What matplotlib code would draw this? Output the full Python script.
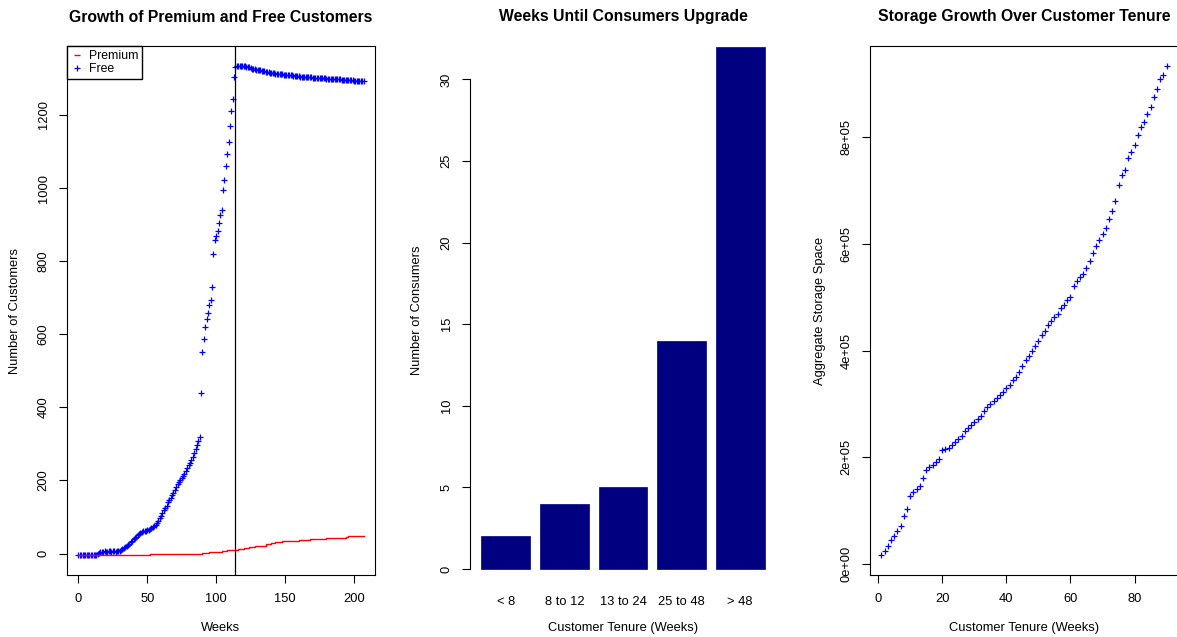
import matplotlib
matplotlib.use('Agg')
import matplotlib.pyplot as plt
from matplotlib.lines import Line2D
import numpy as np

plt.rcParams['font.family'] = ['Liberation Sans', 'DejaVu Sans']

# ---- panel 1: customers per week ----
weeks = list(range(0, 208))
free = [
    # weeks 0-14
    -4, -5, -4, -4, -5, -4, -3, -4, -5, -4, -4, -3, -4, -3, -2,
    # weeks 15-30
    2, 4, 5, 5, 6, 5, 5, 6, 6, 5, 6, 6, 5, 6, 7, 7,
    # weeks 31-88
    9, 12, 15, 18, 21, 24, 27, 31, 35, 39,
    42, 46, 50, 53, 56, 59, 61, 62, 63, 64,
    65, 67, 70, 72, 75, 78, 83, 88, 96, 104,
    111, 119, 125, 131, 140, 146, 152, 159, 166, 173,
    182, 190, 196, 202, 207, 213, 218, 226, 234, 241,
    248, 256, 264, 275, 285, 296, 308, 318,
    # weeks 89-114
    439, 551, 586, 620, 643, 659, 681, 693, 730, 820, 857, 868, 882,
    905, 926, 941, 996, 1023, 1061, 1094, 1127, 1169, 1212, 1244, 1304, 1332,
    # weeks 115-207
    1333, 1334, 1334, 1334, 1333, 1333, 1333, 1332, 1332, 1331,
    1329, 1327, 1326, 1325, 1324, 1323, 1323, 1322, 1321, 1320,
    1319, 1318, 1318, 1317, 1316, 1315, 1315, 1314, 1313, 1313,
    1312, 1312, 1311, 1311, 1310, 1310, 1309, 1309, 1309, 1308,
    1308, 1307, 1307, 1306, 1306, 1306, 1305, 1305, 1305, 1304,
    1304, 1304, 1303, 1303, 1303, 1302, 1302, 1302, 1301, 1301,
    1301, 1300, 1300, 1300, 1300, 1299, 1299, 1299, 1298, 1298,
    1298, 1298, 1297, 1297, 1297, 1297, 1296, 1296, 1296, 1296,
    1295, 1295, 1295, 1295, 1295, 1294, 1294, 1294, 1294, 1294, 1293, 1293, 1293,
]

# premium customers, as a step line (week where the count changes)
premium_weeks = [0, 52, 90, 95, 100, 104, 108, 112, 116, 120, 124, 128, 132,
                 136, 140, 143, 148, 155, 160, 168, 172, 180, 185, 194, 196, 207]
premium = [-4, -1, 1, 3, 5, 7, 9, 11, 13, 15, 17, 20, 22,
           25, 29, 32, 34, 35, 37, 39, 41, 42, 43, 44, 49, 49]
cutoff_week = 114

# ---- panel 2: weeks until upgrade ----
tenure_groups = ['< 8', '8 to 12', '13 to 24', '25 to 48', '> 48']
consumers = [2, 4, 5, 14, 32]

# ---- panel 3: aggregate storage by tenure ----
tenure_weeks = list(range(1, 91))
storage_k = [
    16, 25, 34, 44, 53, 61, 72, 89, 103, 127,
    135, 140, 147, 161, 177, 182, 186, 192, 197, 213,
    215, 218, 223, 229, 234, 239, 250, 254, 260, 266,
    272, 278, 286, 294, 300, 305, 311, 316, 322, 330,
    336, 344, 351, 360, 371, 382, 389, 399, 409, 417,
    429, 436, 447, 455, 463, 469, 479, 486, 494, 501,
    521, 530, 537, 543, 555, 567, 582, 595, 607, 618,
    630, 647, 662, 680, 710, 729, 739, 761, 772, 786,
    804, 819, 828, 844, 856, 875, 890, 908, 916, 934,
]
storage = [v * 1000 for v in storage_k]

W, H = 1177, 637
fig = plt.figure(figsize=(W / 100, H / 100), dpi=100)

def px_axes(x0, x1, y0=46, y1=575):
    # axes placed by pixel box (top-left origin)
    return fig.add_axes([x0 / W, 1 - y1 / H, (x1 - x0) / W, (y1 - y0) / H])

fs = 9.3
tfs = 11.3
title_y = (575 - 17) / 529
xlab_y = (575 - 628) / 529

def style_axes(ax):
    ax.tick_params(length=5.5, width=0.8, labelsize=fs, pad=7.5, direction='out')
    ax.tick_params(axis='y', pad=7.0)
    for t in ax.get_yticklabels():
        t.set_rotation(90)
        t.set_va('center')
    for s in ax.spines.values():
        s.set_linewidth(0.8)

def titles(ax, title, xlabel, ylabel, ylab_x):
    ax.set_title(title, fontsize=tfs, fontweight='bold', y=title_y, va='center', pad=0)
    ax.set_xlabel(xlabel, fontsize=fs)
    ax.xaxis.label.set_va('center')
    ax.xaxis.set_label_coords(0.5, xlab_y)
    ax.set_ylabel(ylabel, fontsize=fs)
    ax.yaxis.label.set_va('center')
    ax.yaxis.set_label_coords(ylab_x, 0.5)

# 1. growth of premium and free customers
ax1 = px_axes(67, 375)
ax1.plot(weeks, free, linestyle='none', marker='+', color='blue', markersize=4.5, mew=0.9)
ax1.plot(premium_weeks, premium, color='red', linewidth=1.0, drawstyle='steps-post')
ax1.axvline(cutoff_week, color='black', linewidth=0.9)
ax1.set_xlim(-8.28, 215.28)
ax1.set_ylim(-58.6, 1388.6)
ax1.set_xticks([0, 50, 100, 150, 200])
ax1.set_yticks([0, 200, 400, 600, 800, 1000, 1200])
style_axes(ax1)
titles(ax1, 'Growth of Premium and Free Customers', 'Weeks', 'Number of Customers',
       (15 - 67) / 308)

handles = [Line2D([], [], linestyle='none', marker='_', color='red', markersize=4, mew=1.0),
           Line2D([], [], linestyle='none', marker='+', color='blue', markersize=4.5, mew=0.9)]
leg = ax1.legend(handles, ['Premium', 'Free'], loc='upper left', bbox_to_anchor=(0, 1),
                 borderaxespad=0, fontsize=8.8, fancybox=False, edgecolor='black',
                 framealpha=1, borderpad=0.32, labelspacing=0.1, handlelength=1.0,
                 handletextpad=0.45)
leg.get_frame().set_linewidth(1.0)

# 2. weeks until consumers upgrade
ax2 = px_axes(470, 776)
pos = np.arange(len(tenure_groups))
ax2.bar(pos, consumers, width=1 / 1.2, color='#000080', edgecolor='#000080', linewidth=0.5)
ax2.set_xlim(-0.61, 4.61)
ax2.set_ylim(-0.37, 32.05)
ax2.set_yticks([0, 5, 10, 15, 20, 25, 30])
ax2.set_xticks(pos, tenure_groups)
style_axes(ax2)
ax2.tick_params(axis='x', length=0, pad=15)
for s in ['top', 'right', 'bottom']:
    ax2.spines[s].set_visible(False)
ax2.spines['left'].set_bounds(0, 30)
titles(ax2, 'Weeks Until Consumers Upgrade', 'Customer Tenure (Weeks)', 'Number of Consumers',
       (417 - 470) / 306)

# 3. storage growth over tenure
ax3 = px_axes(870, 1178)
ax3.plot(tenure_weeks, storage, linestyle='none', marker='+', color='blue', markersize=4.5, mew=0.9)
ax3.set_xlim(-2.56, 93.56)
ax3.set_ylim(-20700, 970700)
ax3.set_xticks([0, 20, 40, 60, 80])
ax3.set_yticks([0, 200000, 400000, 600000, 800000],
               ['0e+00', '2e+05', '4e+05', '6e+05', '8e+05'])
style_axes(ax3)
titles(ax3, 'Storage Growth Over Customer Tenure', 'Customer Tenure (Weeks)',
       'Aggregate Storage Space', (820 - 870) / 307)

fig.savefig('out.png', dpi=100)
